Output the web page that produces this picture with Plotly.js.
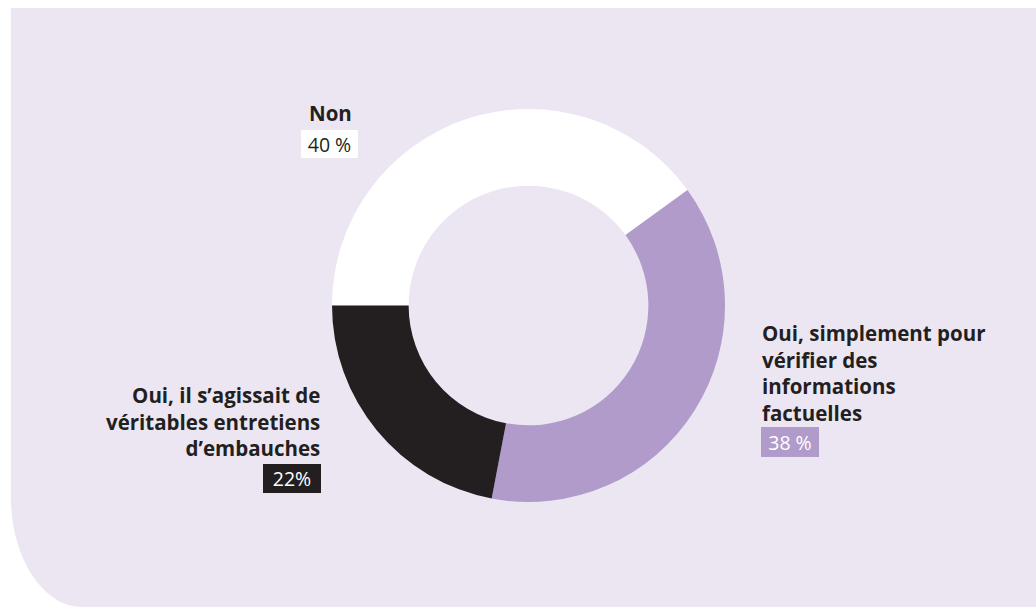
<!DOCTYPE html>
<html>
<head>
<meta charset="utf-8">
<script src="https://cdn.plot.ly/plotly-3.0.1.min.js"></script>
<style>
  html, body { margin: 0; padding: 0; background: #ffffff; }
  #chart { width: 1036px; height: 607px; }
</style>
</head>
<body>
<div id="chart"></div>
<script>
// ---- Data ----
const categories = [
  "Non",
  "Oui, simplement pour vérifier des informations factuelles",
  "Oui, il s’agissait de véritables entretiens d’embauches"
];
const values = [40, 38, 22];
const labelTexts = [
  "Non",
  "Oui, simplement pour<br>vérifier des<br>informations<br>factuelles",
  "Oui, il s’agissait de<br>véritables entretiens<br>d’embauches"
];
const pctLabels = ["40 %", "38 %", "22%"];

// ---- Style ----
const W = 1036, H = 607;
const sliceColors = ["#ffffff", "#b09bca", "#231f20"];
const panelColor = "#ece6f3";
const textDark = "#231f20";
const FONT = "'Open Sans', 'Noto Sans', sans-serif";

const px = x => x / W;
const py = y => 1 - y / H;

// donut geometry (pixels)
const cx = 528.5, cy = 305.5, R = 196.5;

const trace = {
  type: "pie",
  labels: categories,
  values: values,
  marker: { colors: sliceColors, line: { width: 0 } },
  hole: 0.61,
  sort: false,
  direction: "clockwise",
  rotation: 270,
  textinfo: "none",
  hoverinfo: "skip",
  showlegend: false,
  domain: { x: [px(cx - R), px(cx + R)], y: [py(cy + R), py(cy - R)] }
};

// panel with rounded bottom-left corner
const x0 = px(11), x1 = 1, y0 = py(8), y1 = py(607);
const panelPath =
  `M ${x0} ${y0} L ${x1} ${y0} L ${x1} ${y1} L ${px(82)} ${y1} ` +
  `C ${px(42)} ${y1} ${x0} ${py(556)} ${x0} ${py(498)} Z`;

const labelFont = { family: FONT, size: 20.5, color: textDark };
const pctFont = { family: FONT, size: 19.5 };

const annotations = [
  { text: "<b>" + labelTexts[0] + "</b>", x: px(330), y: py(113), xanchor: "center", yanchor: "middle",
    font: labelFont, showarrow: false },
  { text: pctLabels[0], x: px(329.5), y: py(144), xanchor: "center", yanchor: "middle",
    font: Object.assign({}, pctFont, { color: textDark }), bgcolor: sliceColors[0],
    width: 51, height: 22, borderpad: 3, borderwidth: 0, showarrow: false },
  { text: "<b>" + labelTexts[1] + "</b>", x: px(760), y: py(372.5), xanchor: "left", yanchor: "middle",
    align: "left", font: labelFont, showarrow: false },
  { text: pctLabels[1], x: px(761), y: py(442), xanchor: "left", yanchor: "middle",
    font: Object.assign({}, pctFont, { color: "#ffffff" }), bgcolor: sliceColors[1],
    width: 52, height: 24, borderpad: 3, borderwidth: 0, showarrow: false },
  { text: "<b>" + labelTexts[2] + "</b>", x: px(322), y: py(421), xanchor: "right", yanchor: "middle",
    align: "right", font: labelFont, showarrow: false },
  { text: pctLabels[2], x: px(321), y: py(478.5), xanchor: "right", yanchor: "middle",
    font: Object.assign({}, pctFont, { color: "#ffffff" }), bgcolor: sliceColors[2],
    width: 52, height: 23, borderpad: 3, borderwidth: 0, showarrow: false }
];

const layout = {
  width: W, height: H,
  margin: { l: 0, r: 0, t: 0, b: 0 },
  paper_bgcolor: "#ffffff",
  plot_bgcolor: "rgba(0,0,0,0)",
  showlegend: false,
  shapes: [{
    type: "path", xref: "paper", yref: "paper", path: panelPath,
    fillcolor: panelColor, line: { width: 0 }, layer: "below"
  }],
  annotations: annotations
};

Plotly.newPlot("chart", [trace], layout, { displayModeBar: false, staticPlot: true });
</script>
</body>
</html>
